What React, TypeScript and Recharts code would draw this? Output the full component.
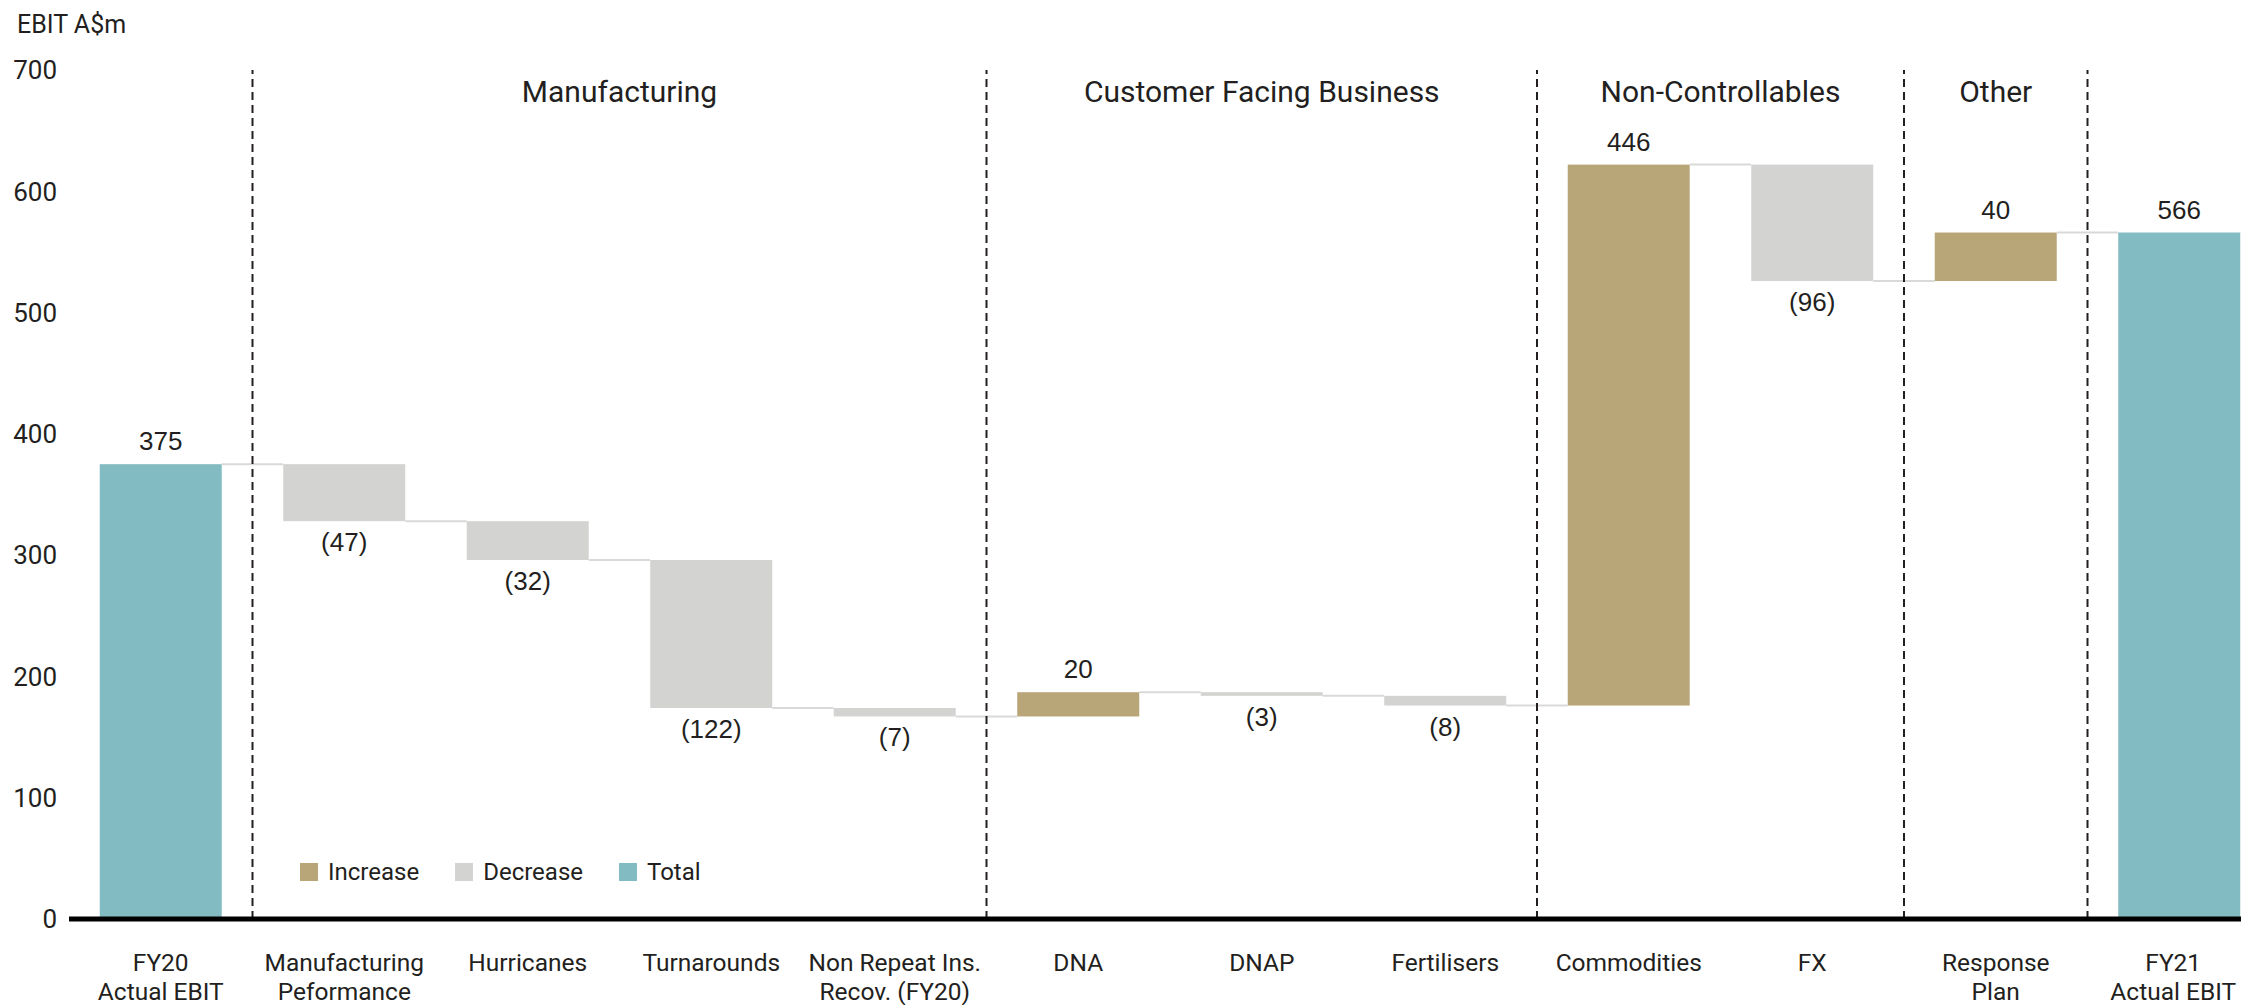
import { BarChart, Bar, XAxis, YAxis, ReferenceLine, ReferenceArea, LabelList, Legend } from 'recharts';

// EBIT bridge FY20 -> FY21 (A$m)
const categories = [
  'FY20\nActual EBIT',
  'Manufacturing\nPeformance',
  'Hurricanes',
  'Turnarounds',
  'Non Repeat Ins.\nRecov. (FY20)',
  'DNA',
  'DNAP',
  'Fertilisers',
  'Commodities',
  'FX',
  'Response\nPlan',
  'FY21\nActual EBIT',
];
const changes = [375, -47, -32, -122, -7, 20, -3, -8, 446, -96, 40, 566];
const kinds = ['total', 'decrease', 'decrease', 'decrease', 'decrease', 'increase', 'decrease', 'decrease', 'increase', 'decrease', 'increase', 'total'];

const yTicks = [0, 100, 200, 300, 400, 500, 600, 700];

// section headings and the dashed lines between them
const sections = [
  { title: 'Manufacturing', from: 'Manufacturing\nPeformance', to: 'Non Repeat Ins.\nRecov. (FY20)' },
  { title: 'Customer Facing Business', from: 'DNA', to: 'Fertilisers' },
  { title: 'Non-Controllables', from: 'Commodities', to: 'FX' },
  { title: 'Other', from: 'Response\nPlan', to: 'Response\nPlan' },
];
const dividers = ['Manufacturing\nPeformance', 'DNA', 'Commodities', 'Response\nPlan', 'FY21\nActual EBIT'];

const legendItems = [
  { label: 'Increase', kind: 'increase' },
  { label: 'Decrease', kind: 'decrease' },
  { label: 'Total', kind: 'total' },
];

const COLORS: Record<string, string> = {
  increase: '#b8a678',
  decrease: '#d3d3d2',
  total: '#82bbc2',
};
const TEXT = '#231f20';
const FONT = 'Roboto, sans-serif';
const NUM_FONT = '"Liberation Sans", Arial, sans-serif';
const GAP = 0.1675;

// running totals -> [low, high] ranges
let running = 0;
const rows = categories.map((name, i) => {
  const kind = kinds[i];
  let range: [number, number];
  if (kind === 'total') {
    running = changes[i];
    range = [0, changes[i]];
  } else {
    const prev = running;
    running = prev + changes[i];
    range = [Math.min(prev, running), Math.max(prev, running)];
  }
  const v = changes[i];
  return { name, kind, range, label: v < 0 ? `(${Math.abs(v)})` : `${v}` };
});

// bar + connector to the next bar
const WaterfallBar = (props: any) => {
  const { x, y, width, height, index, payload } = props;
  const band = width / (1 - 2 * GAP);
  const endY = payload.kind === 'decrease' ? y + height : y;
  return (
    <g>
      <rect x={x} y={y} width={width} height={height} fill={COLORS[payload.kind]} />
      {index < rows.length - 1 && (
        <line x1={x + width} x2={x + band} y1={endY} y2={endY} stroke="#d9d9d9" strokeWidth={2} />
      )}
    </g>
  );
};

const ValueLabel = (props: any) => {
  const { x, y, width, height, value, index } = props;
  const below = rows[index].kind === 'decrease';
  return (
    <text
      x={x + width / 2}
      y={below ? y + height + 30 : y - 14}
      textAnchor="middle"
      fontSize={26}
      fontFamily={NUM_FONT}
      fill={TEXT}
    >
      {value}
    </text>
  );
};

const CategoryTick = (props: any) => {
  const { x, y, payload, index } = props;
  const lines = String(payload.value).split('\n');
  // last label sits at the clipped right edge: nudge it in a little
  const cx = index === categories.length - 1 ? x - 6 : x;
  return (
    <text x={cx} y={y} textAnchor="middle" fontSize={24.5} fontFamily={FONT} fill={TEXT}>
      {lines.map((l, i) => (
        <tspan key={i} x={cx} dy={i === 0 ? 52 : 29}>
          {l}
        </tspan>
      ))}
    </text>
  );
};

const LegendBox = () => (
  <div style={{ display: 'flex', alignItems: 'center', fontFamily: FONT, fontSize: 24, color: TEXT, lineHeight: '28px' }}>
    {legendItems.map((it) => (
      <div key={it.kind} style={{ display: 'flex', alignItems: 'center', marginRight: 36 }}>
        <span style={{ width: 18, height: 18, background: COLORS[it.kind], marginRight: 10, display: 'inline-block' }} />
        <span>{it.label}</span>
      </div>
    ))}
  </div>
);

export default function App() {
  return (
    <div style={{ position: 'absolute', left: 0, top: 0, width: 2241, height: 1005, overflow: 'hidden', background: '#fff' }}>
      <div style={{ position: 'absolute', left: 17, top: 10, fontFamily: FONT, fontSize: 25, lineHeight: '30px', color: TEXT, zIndex: 2 }}>
        EBIT A$m
      </div>
      <BarChart width={2271} height={1005} data={rows} margin={{ top: 70, right: 0, left: 0, bottom: 0 }} barCategoryGap="16.75%">
        <XAxis
          dataKey="name"
          interval={0}
          height={86}
          tickLine={false}
          tickSize={0}
          tickMargin={0}
          axisLine={{ stroke: '#000', strokeWidth: 5 }}
          tick={<CategoryTick />}
        />
        <YAxis
          width={69}
          domain={[0, 700]}
          ticks={yTicks}
          axisLine={false}
          tickLine={false}
          tickSize={0}
          tickMargin={12}
          tick={{ fontSize: 26, fontFamily: FONT, fill: TEXT }}
        />
        <Legend verticalAlign="middle" align="center" layout="horizontal" wrapperStyle={{ left: 300, top: 858, width: 'auto' }} content={<LegendBox />} />
        {sections.map((s) => (
          <ReferenceArea
            key={s.title}
            x1={s.from}
            x2={s.to}
            y1={664}
            y2={700}
            fillOpacity={0}
            strokeOpacity={0}
            label={{ value: s.title, position: 'center', fontSize: 30, fontFamily: FONT, fill: TEXT }}
          />
        ))}
        <Bar dataKey="range" isAnimationActive={false} shape={<WaterfallBar />}>
          <LabelList dataKey="label" content={<ValueLabel />} />
        </Bar>
        {dividers.map((d) => (
          <ReferenceLine key={d} x={d} position="start" stroke={TEXT} strokeWidth={2} strokeDasharray="8 5" />
        ))}
      </BarChart>
    </div>
  );
}
